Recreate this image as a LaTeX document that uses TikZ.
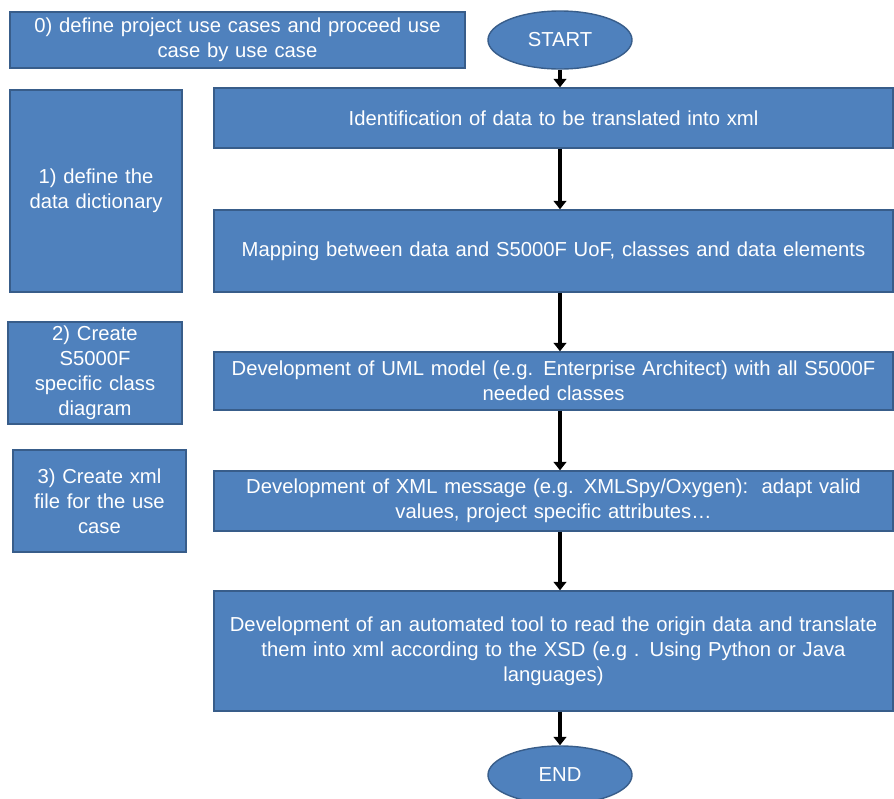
\documentclass[tikz,border=0pt]{standalone}
\usepackage{fontspec}
\setmainfont{Liberation Sans}
\usetikzlibrary{arrows.meta, shapes.geometric, positioning, calc}
\definecolor{stepblue}{RGB}{79,129,189}
\definecolor{stepedge}{RGB}{56,93,138}

\begin{document}
\begin{tikzpicture}[x=0.025cm, y=-0.025cm,
        box/.style={draw=stepedge, line width=1pt, fill=stepblue, text=white,
                    inner sep=2pt, align=center,
                    font=\fontsize{14.4}{17.7}\selectfont},
        mainbox/.style={box, minimum width=16.975cm, text width=16.6cm},
        sidebox/.style={box, text width=4cm},
        term/.style={ellipse, draw=stepedge, line width=1pt, fill=stepblue, text=white,
                     minimum width=3.6cm, minimum height=1.45cm, inner sep=0pt,
                     font=\fontsize{14.4}{17.7}\selectfont},
        arr/.style={-{Triangle[length=6pt, width=9pt]}, line width=2.3pt}
      ]
        \useasboundingbox (0,0) rectangle (894,798);

        % left column
        \node[box, minimum width=11.375cm, minimum height=1.4cm, text width=11cm] (usecases) at (237.5,40)
            {0) define project use cases and proceed use\\case by use case};
        \node[sidebox, minimum width=4.3cm, minimum height=5.05cm] (dict) at (96,191)
            {1) define the\\data dictionary};
        \node[sidebox, minimum width=4.35cm, minimum height=2.55cm] (classdiag) at (95,373)
            {2) Create\\S5000F\\specific class\\diagram};
        \node[sidebox, minimum width=4.325cm, minimum height=2.55cm] (xmlfile) at (99.5,501)
            {3) Create xml\\file for the use\\case};

        % main flow
        \node[term] (start) at (560,40) {START};
        \node[mainbox, minimum height=1.5cm] (ident) at (553.5,118)
            {Identification of data to be translated into xml};
        \node[mainbox, minimum height=2.05cm] (mapping) at (553.5,251)
            {Mapping between data and S5000F UoF, classes and data elements};
        \node[mainbox, minimum height=1.45cm] (uml) at (553.5,381)
            {Development of UML model (e.g. Enterprise Architect) with all S5000F\\needed classes};
        \node[mainbox, minimum height=1.5cm] (xmlmsg) at (553.5,501)
            {Development of XML message (e.g. XMLSpy/Oxygen):\ \ adapt valid\\values, project specific attributes\dots};
        \node[mainbox, minimum height=3cm] (tool) at (553.5,651)
            {Development of an automated tool to read the origin data and translate\\them into xml according to the XSD (e.g . Using Python or Java\\languages)};
        \node[term] (stop) at (560,775) {END};

        \draw[arr] (start) -- (start |- ident.north);
        \draw[arr] (ident.south -| start) -- (mapping.north -| start);
        \draw[arr] (mapping.south -| start) -- (uml.north -| start);
        \draw[arr] (uml.south -| start) -- (xmlmsg.north -| start);
        \draw[arr] (xmlmsg.south -| start) -- (tool.north -| start);
        \draw[arr] (tool.south -| start) -- (stop);
      \end{tikzpicture}
\end{document}
